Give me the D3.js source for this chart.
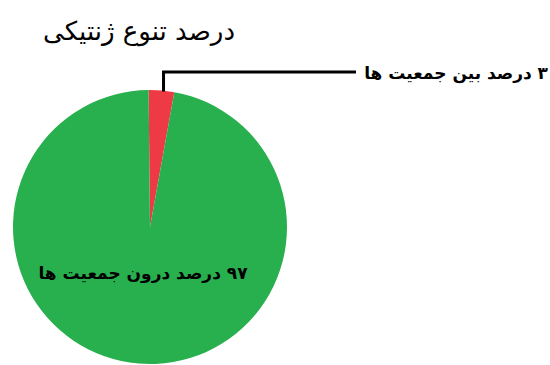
<!DOCTYPE html>
<html>
<head>
<meta charset="utf-8">
<script src="https://cdn.jsdelivr.net/npm/d3@7"></script>
<style>
  body { margin: 0; background: #fff; }
  text { font-family: "DejaVu Sans", sans-serif; }
</style>
</head>
<body>
<svg id="chart" width="550" height="365"></svg>
<script>
// pie data
var categories = ["بین جمعیت ها", "درون جمعیت ها"];
var values = [3, 97];
var labels = ["۳ درصد بین جمعیت ها", "۹۷ درصد درون جمعیت ها"];
var colors = ["#ee3a45", "#29b04e"];
var title = "درصد تنوع ژنتیکی";

var width = 550, height = 365;
var cx = 150, cy = 227, radius = 137;

var svg = d3.select("#chart");

svg.append("text")
    .attr("x", 139)
    .attr("y", 40)
    .attr("text-anchor", "middle")
    .attr("direction", "rtl")
    .style("font-size", "26px")
    .text(title);

var pie = d3.pie().sort(null).value(function (d) { return d; })
    .startAngle(-0.01).endAngle(2 * Math.PI - 0.01);
var arcs = pie(values);
var arc = d3.arc().innerRadius(0).outerRadius(radius);

var g = svg.append("g").attr("transform", "translate(" + cx + "," + cy + ")");

g.selectAll("path")
    .data(arcs)
    .enter()
    .append("path")
    .attr("d", arc)
    .attr("fill", function (d, i) { return colors[i]; });

//leader line for the small slice
var a = arcs[0];
var mid = (a.startAngle + a.endAngle) / 2;
var px = cx + Math.sin(mid) * radius + 2;
var py = cy - Math.cos(mid) * radius;
svg.append("path")
    .attr("d", "M" + px + "," + (py + 1) + "V72H356")
    .attr("fill", "none")
    .attr("stroke", "#000")
    .attr("stroke-width", 3);

svg.append("text")
    .attr("x", 548)
    .attr("y", 79)
    .attr("text-anchor", "start")
    .attr("direction", "rtl")
    .style("font-size", "17px")
    .style("font-weight", "bold")
    .text(labels[0]);

//label inside the big slice
svg.append("text")
    .attr("x", 143)
    .attr("y", 279)
    .attr("text-anchor", "middle")
    .attr("direction", "rtl")
    .style("font-size", "17px")
    .style("font-weight", "bold")
    .text(labels[1]);
</script>
</body>
</html>
